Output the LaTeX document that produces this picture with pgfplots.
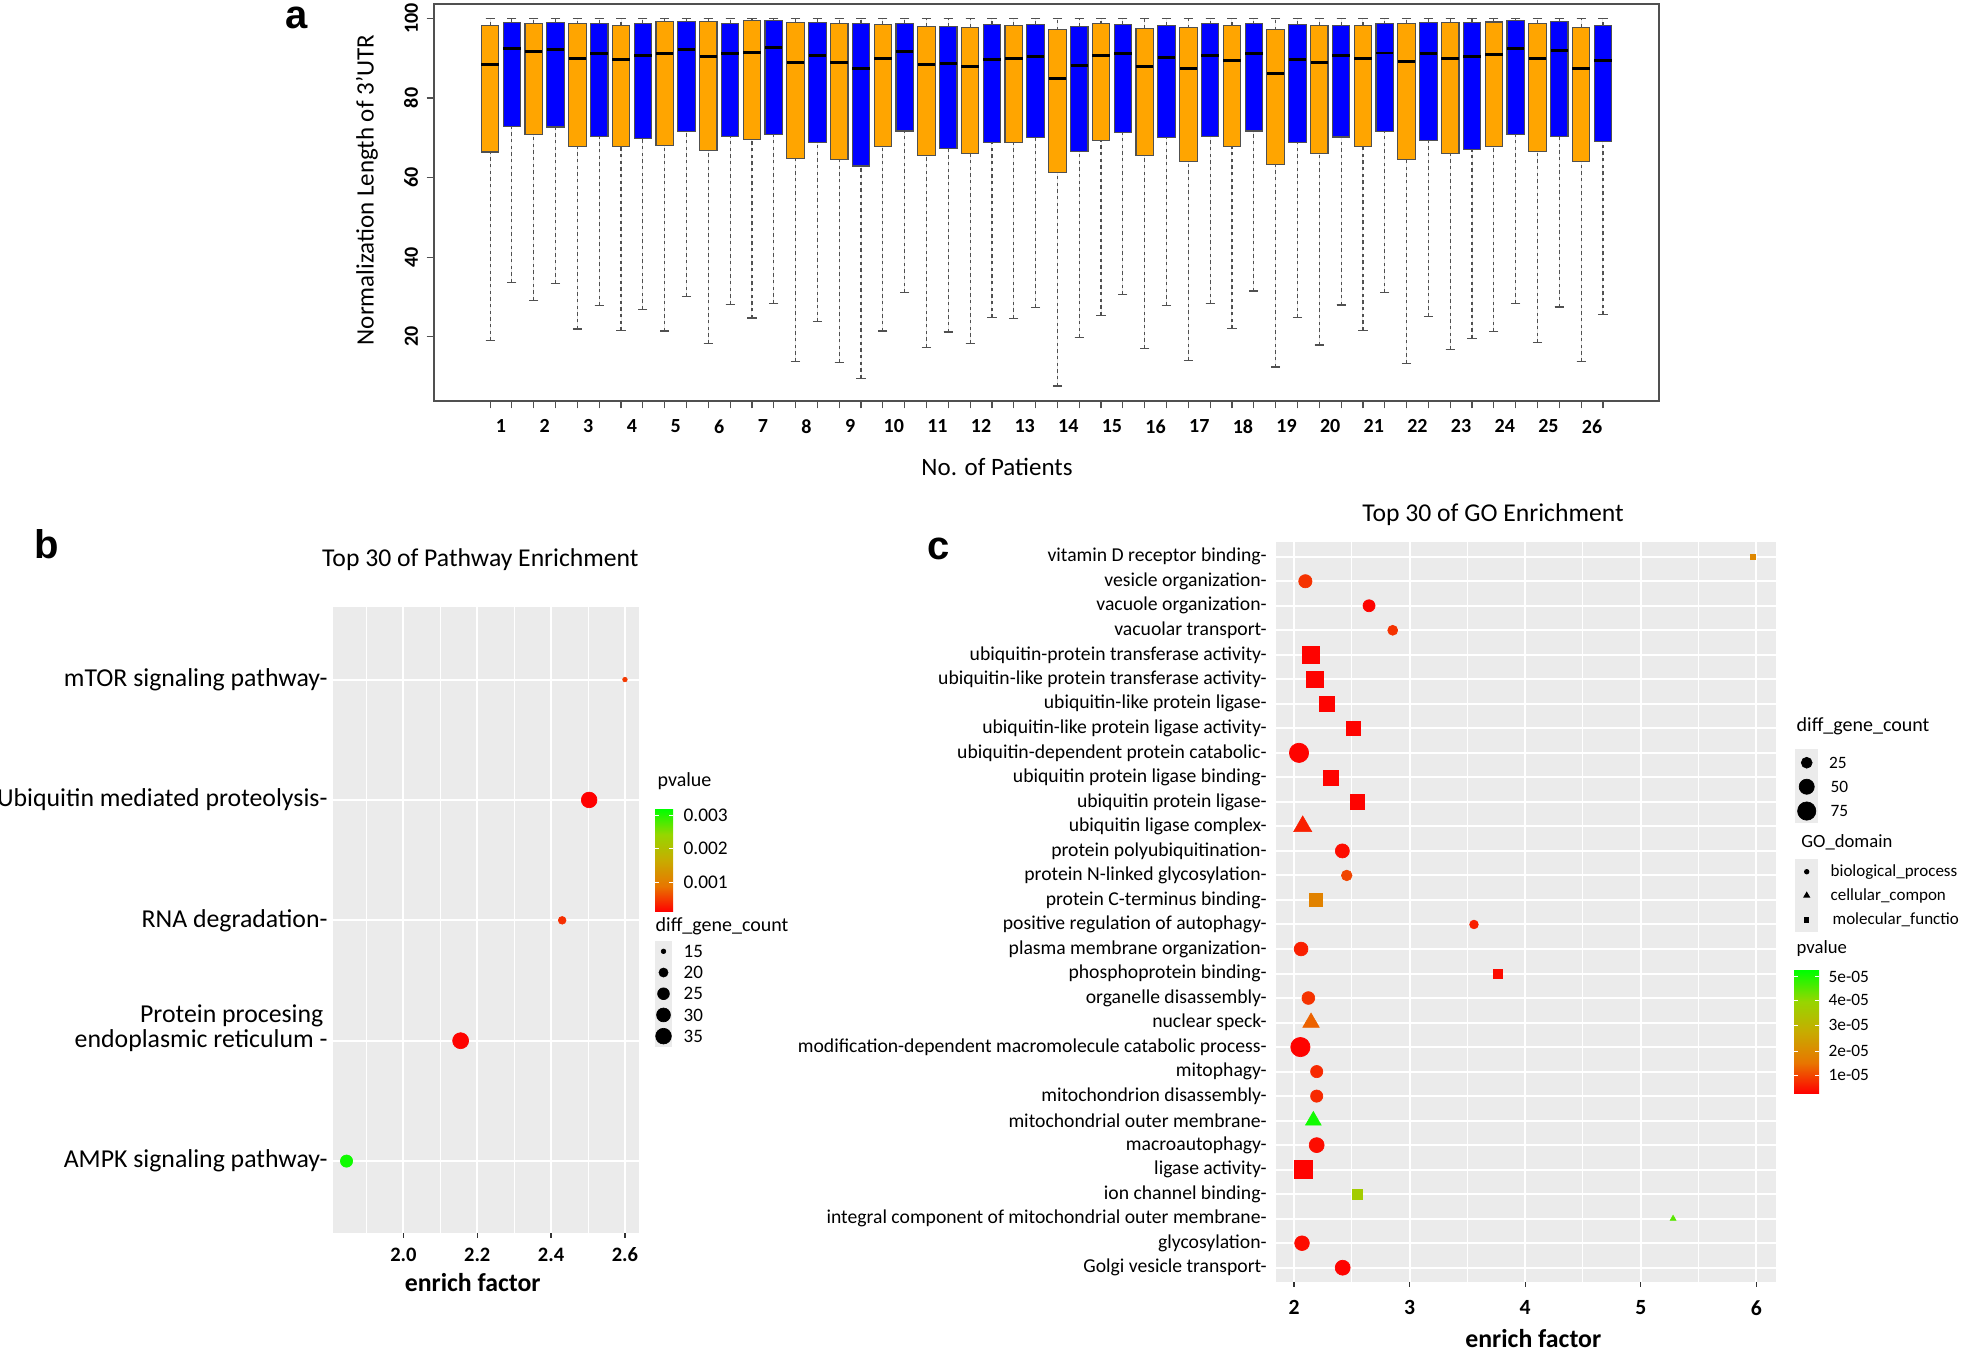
\documentclass[border=0pt]{standalone}
\usepackage{pgfplots}
\pgfplotsset{compat=1.18}
\usepackage{pgfplotstable}
\usepgfplotslibrary{statistics}
\usepackage{fontspec}
\setmainfont{Carlito}
\newfontfamily\arialf{Liberation Sans}

\definecolor{rorange}{HTML}{FFA500}
\definecolor{rblue}{HTML}{0000FF}
\definecolor{ggbg}{HTML}{EBEBEB}
\definecolor{ggtick}{HTML}{333333}
\definecolor{rframe}{HTML}{505050}

\pgfplotsset{colormap={rg}{rgb255(0cm)=(255,0,0); rgb255(1cm)=(232,118,0); rgb255(2cm)=(200,171,0); rgb255(3cm)=(151,214,0); rgb255(4cm)=(0,255,0)}}
\pgfdeclareverticalshading{rgbar}{100bp}{rgb(0bp)=(1,0,0); rgb(25bp)=(1,0,0); rgb(37.5bp)=(0.91,0.463,0); rgb(50bp)=(0.784,0.671,0); rgb(62.5bp)=(0.592,0.839,0); rgb(75bp)=(0,1,0); rgb(100bp)=(0,1,0)}

\newcommand\fs[1]{\fontsize{#1pt}{#1pt}\selectfont}

% panel a: draw position, lower whisker, lower quartile, median, upper quartile (upper whisker = 100)
\newcommand\bxo[5]{\addplot[boxplot prepared={draw position=#1, lower whisker=#2, lower quartile=#3, median=#4, upper quartile=#5, upper whisker=100}, draw=rframe, line width=0.35pt, fill=rorange] coordinates {};}
\newcommand\bxb[5]{\addplot[boxplot prepared={draw position=#1, lower whisker=#2, lower quartile=#3, median=#4, upper quartile=#5, upper whisker=100}, draw=rframe, line width=0.35pt, fill=rblue] coordinates {};}
\newcommand\wtick[3]{\draw[white, line width=0.3pt] (#1,#3) -- (#1+4,#3); \draw[white, line width=0.3pt] (#2-4,#3) -- (#2,#3);}

% panel b
\pgfplotstableread{
pos ef count p
5 2.600 15 0.00047
4 2.503 35 0.00010
3 2.430 18 0.00040
2 2.155 36 0.00012
1 1.846 26 0.00310
}\pathtab

% panel c: biological process
\pgfplotstableread{
pos ef count p
29 2.098 38 0.8e-5
28 2.649 31 0.3e-5
27 2.854 21 0.8e-5
22 2.043 84 0.3e-5
18 2.418 43 0.4e-5
17 2.456 24 1.0e-5
15 3.557 16 0.6e-5
14 2.061 41 0.6e-5
12 2.124 35 0.8e-5
10 2.055 84 0.3e-5
9 2.196 32 0.7e-5
8 2.196 32 0.7e-5
6 2.196 49 0.4e-5
2 2.069 47 0.4e-5
1 2.421 49 0.3e-5
}\gobp
% cellular component
\pgfplotstableread{
pos ef count p
19 2.075 73 0.6e-5
11 2.147 59 1.3e-5
7 2.167 54 5.1e-5
3 5.280 8 4.5e-5
}\gocc
% molecular function
\pgfplotstableread{
pos ef count p
30 5.970 6 1.9e-5
26 2.144 78 0.3e-5
25 2.179 78 0.3e-5
24 2.283 62 0.3e-5
23 2.510 51 0.3e-5
21 2.317 62 0.3e-5
20 2.545 56 0.3e-5
16 2.190 41 1.8e-5
13 3.767 21 0.4e-5
5 2.084 90 0.3e-5
4 2.548 26 3.7e-5
}\gomf

% legend keys (pixel positions on the canvas)
\pgfplotstableread{
x y count
663.5 951.3 15
663.5 972.5 20
663.5 993.7 25
663.5 1014.9 30
663.5 1036.1 35
}\legbtab
\pgfplotstableread{
x y count
1806.7 762.7 25
1806.7 786.7 50
1806.7 811.0 75
}\legctab

\begin{document}
\begin{tikzpicture}
\useasboundingbox (0pt,0pt) rectangle (588.3pt,-404.7pt);

% ================= panel a =================
\begin{axis}[
  at={(130.2pt,-120.3pt)}, anchor=south west, scale only axis,
  width=367.5pt, height=119.1pt,
  xmin=-1.57, xmax=54.57, ymin=3.84, ymax=103.6,
  axis line style={rframe, line width=0.45pt},
  tick align=outside, tick pos=left,
  major tick length=2.2pt,
  every tick/.style={rframe, line width=0.35pt},
  xtick={1,...,52},
  xticklabels={,1,,2,,3,,4,,5,,6,,7,,8,,9,,10,,11,,12,,13,,14,,15,,16,,17,,18,,19,,20,,21,,22,,23,,24,,25,,26},
  xticklabel style={font=\bfseries\fs{6}, anchor=north, inner sep=0pt, yshift=-3.1pt, xshift=-3.27pt},
  ytick={20,40,60,80,100}, yticklabels={20,40,60,80,100},
  yticklabel style={font=\bfseries\fs{6}, xshift=-2.4pt, rotate=90, anchor=south, inner sep=0pt},
  boxplot/draw direction=y,
  boxplot/box extend=0.8, boxplot/whisker extend=0.42,
  boxplot/every median/.style={black, line width=0.85pt},
  boxplot/draw/lower whisker/.code={%
    \draw[rframe, line width=0.35pt, dash pattern=on 1pt off 1pt]
      (boxplot cs:\pgfplotsboxplotvalue{lower whisker}) -- (boxplot cs:\pgfplotsboxplotvalue{lower quartile});
    \draw[rframe, line width=0.4pt, solid]
      (boxplot whisker cs:\pgfplotsboxplotvalue{lower whisker},0) -- (boxplot whisker cs:\pgfplotsboxplotvalue{lower whisker},1);
  },
  boxplot/draw/upper whisker/.code={%
    \draw[rframe, line width=0.35pt, dash pattern=on 1pt off 1pt]
      (boxplot cs:\pgfplotsboxplotvalue{upper quartile}) -- (boxplot cs:\pgfplotsboxplotvalue{upper whisker});
    \draw[rframe, line width=0.4pt, solid]
      (boxplot whisker cs:\pgfplotsboxplotvalue{upper whisker},0) -- (boxplot whisker cs:\pgfplotsboxplotvalue{upper whisker},1);
  },
]
\bxo{1}{19.0}{66.4}{88.4}{98.2}
\bxb{2}{33.7}{72.9}{92.5}{99.0}
\bxo{3}{29.1}{70.9}{91.6}{98.8}
\bxb{4}{33.4}{72.7}{92.1}{98.9}
\bxo{5}{21.9}{67.9}{89.9}{98.6}
\bxb{6}{27.8}{70.3}{91.2}{98.7}
\bxo{7}{21.5}{67.7}{89.6}{98.3}
\bxb{8}{26.9}{69.9}{90.6}{98.7}
\bxo{9}{21.4}{68.1}{91.2}{99.2}
\bxb{10}{30.1}{71.5}{92.1}{99.2}
\bxo{11}{18.3}{66.8}{90.4}{99.2}
\bxb{12}{28.1}{70.4}{91.2}{98.8}
\bxo{13}{24.7}{69.5}{91.5}{99.4}
\bxb{14}{28.4}{70.9}{92.6}{99.4}
\bxo{15}{13.8}{64.7}{89.0}{98.9}
\bxb{16}{23.8}{68.8}{90.7}{98.9}
\bxo{17}{13.6}{64.6}{88.8}{98.7}
\bxb{18}{9.5}{62.9}{87.4}{98.7}
\bxo{19}{21.4}{67.7}{89.9}{98.5}
\bxb{20}{31.1}{71.7}{91.7}{98.7}
\bxo{21}{17.3}{65.6}{88.4}{97.9}
\bxb{22}{21.2}{67.2}{88.7}{98.0}
\bxo{23}{18.3}{66.0}{87.8}{97.8}
\bxb{24}{24.8}{68.9}{89.7}{98.4}
\bxo{25}{24.6}{68.8}{90.0}{98.3}
\bxb{26}{27.3}{70.0}{90.4}{98.4}
\bxo{27}{7.6}{61.2}{84.9}{97.1}
\bxb{28}{19.8}{66.5}{88.1}{97.9}
\bxo{29}{25.4}{69.2}{90.7}{98.6}
\bxb{30}{30.6}{71.3}{91.1}{98.5}
\bxo{31}{17.1}{65.5}{87.8}{97.5}
\bxb{32}{27.9}{70.1}{90.2}{98.3}
\bxo{33}{14.1}{64.1}{87.4}{97.6}
\bxb{34}{28.3}{70.4}{90.6}{98.6}
\bxo{35}{22.0}{67.9}{89.5}{98.3}
\bxb{36}{31.5}{71.7}{91.1}{98.6}
\bxo{37}{12.4}{63.2}{86.1}{97.1}
\bxb{38}{24.8}{68.9}{89.7}{98.4}
\bxo{39}{17.9}{66.1}{88.9}{98.2}
\bxb{40}{28.0}{70.2}{90.6}{98.3}
\bxo{41}{21.6}{67.7}{89.9}{98.2}
\bxb{42}{31.1}{71.6}{91.3}{98.6}
\bxo{43}{13.3}{64.6}{89.2}{98.7}
\bxb{44}{25.1}{69.4}{91.2}{98.9}
\bxo{45}{16.8}{66.0}{89.9}{98.9}
\bxb{46}{19.6}{67.1}{90.5}{98.9}
\bxo{47}{21.3}{67.9}{90.9}{99.1}
\bxb{48}{28.4}{70.9}{92.5}{99.4}
\bxo{49}{18.5}{66.6}{89.9}{98.7}
\bxb{50}{27.5}{70.4}{92.0}{99.2}
\bxo{51}{13.8}{64.1}{87.3}{97.8}
\bxb{52}{25.5}{69.0}{89.4}{98.2}
\end{axis}

% ================= panel b =================
\begin{axis}[
  at={(99.75pt,-369.99pt)}, anchor=south west, scale only axis,
  width=91.95pt, height=187.8pt,
  xmin=1.808, xmax=2.638, ymin=0.4, ymax=5.6,
  axis background/.style={fill=ggbg},
  axis line style={draw=none},
  tick align=outside, xtick pos=left, ytick pos=left,
  major tick length=1.3pt, minor tick length=0pt,
  xtick style={ggtick, line width=0.4pt}, ytick style={draw=none},
  xtick={2.0,2.2,2.4,2.6}, xticklabels={2.0,2.2,2.4,2.6},
  minor xtick={1.9,2.1,2.3,2.5},
  ytick={1,2,3,4,5},
  yticklabels={AMPK signaling pathway-, endoplasmic reticulum -, RNA degradation-, Ubiquitin mediated proteolysis-, mTOR signaling pathway-},
  xticklabel style={font=\bfseries\fs{6.15}, anchor=north, inner sep=0pt, yshift=-2.85pt},
  yticklabel style={font=\fs{7.74}, anchor=east, inner sep=0pt},
  grid=both, major grid style={white, line width=0.6pt}, minor grid style={white, line width=0.3pt},
  point meta min=0.0001, point meta max=0.00318,
]
\addplot[scatter, only marks, mark=*, point meta=explicit,
  scatter/use mapped color={draw=mapped color, fill=mapped color},
  mark options={line width=0.2pt},
  visualization depends on={0.15*(1.5+14.5*sqrt((\thisrow{count}-14)/22)) \as \msz},
  scatter/@pre marker code/.append style={/tikz/mark size=\msz}]
  table[x=ef, y=pos, meta=p] \pathtab;
\end{axis}

% ================= panel c =================
\begin{axis}[
  at={(382.8pt,-384.72pt)}, anchor=south west, scale only axis,
  width=149.91pt, height=222.12pt,
  xmin=1.844, xmax=6.168, ymin=0.4, ymax=30.6,
  axis background/.style={fill=ggbg},
  axis line style={draw=none},
  tick align=outside, xtick pos=left, ytick pos=left,
  major tick length=1.3pt, minor tick length=0pt,
  xtick style={ggtick, line width=0.4pt}, ytick style={draw=none},
  xtick={2,3,4,5,6}, xticklabels={2,3,4,5,6},
  minor xtick={2.5,3.5,4.5,5.5},
  ytick={1,...,30},
  yticklabels={Golgi vesicle transport-, glycosylation-, integral component of mitochondrial outer membrane-, ion channel binding-, ligase activity-, macroautophagy-, mitochondrial outer membrane-, mitochondrion disassembly-, mitophagy-, modification-dependent macromolecule catabolic process-, nuclear speck-, organelle disassembly-, phosphoprotein binding-, plasma membrane organization-, positive regulation of autophagy-, protein C-terminus binding-, protein N-linked glycosylation-, protein polyubiquitination-, ubiquitin ligase complex-, ubiquitin protein ligase-, ubiquitin protein ligase binding-, ubiquitin-dependent protein catabolic-, ubiquitin-like protein ligase activity-, ubiquitin-like protein ligase-, ubiquitin-like protein transferase activity-, ubiquitin-protein transferase activity-, vacuolar transport-, vacuole organization-, vesicle organization-, vitamin D receptor binding-},
  xticklabel style={font=\bfseries\fs{6.5}, anchor=north, inner sep=0pt, yshift=-4pt},
  yticklabel style={font=\fs{5.9}, anchor=east, inner sep=0pt, xshift=-1.3pt},
  grid=both, major grid style={white, line width=0.6pt}, minor grid style={white, line width=0.3pt},
  point meta min=0.27e-5, point meta max=5.23e-5,
]
\addplot[scatter, only marks, mark=*, point meta=explicit,
  scatter/use mapped color={draw=mapped color, fill=mapped color},
  mark options={line width=0.2pt},
  visualization depends on={0.15*(2+17.5*sqrt((\thisrow{count}-4)/82)) \as \msz},
  scatter/@pre marker code/.append style={/tikz/mark size=\msz}]
  table[x=ef, y=pos, meta=p] \gobp;
\addplot[scatter, only marks, mark=triangle*, point meta=explicit,
  scatter/use mapped color={draw=mapped color, fill=mapped color},
  mark options={line width=0.2pt},
  visualization depends on={0.1732*(2+17.5*sqrt((\thisrow{count}-4)/82)) \as \msz},
  scatter/@pre marker code/.append style={/tikz/mark size=\msz}]
  table[x=ef, y=pos, meta=p] \gocc;
\addplot[scatter, only marks, mark=square*, point meta=explicit,
  scatter/use mapped color={draw=mapped color, fill=mapped color},
  mark options={line width=0.2pt},
  visualization depends on={0.135*(2+17.5*sqrt((\thisrow{count}-4)/82)) \as \msz},
  scatter/@pre marker code/.append style={/tikz/mark size=\msz}]
  table[x=ef, y=pos, meta=p] \gomf;
\end{axis}

% ================= overlay (pixel canvas) =================
\begin{axis}[
  at={(0pt,0pt)}, anchor=north west, scale only axis,
  width=588.3pt, height=404.7pt,
  xmin=0, xmax=1961, ymin=0, ymax=1349, y dir=reverse,
  hide axis, clip=false,
]
% panel a texts
\node[font=\arialf\bfseries\fs{12}, inner sep=0pt] at (297,18) {a};
\node[rotate=90, font=\fs{7.5}] at (367,190) {Normalization Length of 3’UTR};
\node[font=\fs{7.5}] at (997,466.7) {No. of Patients};

% panel b texts
\node[font=\arialf\bfseries\fs{12}, inner sep=0pt] at (46.5,544) {b};
\node[font=\fs{7.7}] at (480.4,559.5) {Top 30 of Pathway Enrichment};
\node[font=\fs{7.74}, anchor=east, inner sep=0pt] at (324,1016) {Protein procesing};
\node[font=\bfseries\fs{7.74}] at (472.7,1282.7) {enrich factor};
% panel b legend
\node[font=\fs{6}, anchor=west, inner sep=0pt] at (657,781) {pvalue};
\shade[shading=rgbar] (655,911.7) rectangle (673,809);
\wtick{655}{673}{815}
\wtick{655}{673}{848.7}
\wtick{655}{673}{882}
\node[font=\fs{5.8}, anchor=west, inner sep=0pt] at (683,815) {0.003};
\node[font=\fs{5.8}, anchor=west, inner sep=0pt] at (683,848.7) {0.002};
\node[font=\fs{5.8}, anchor=west, inner sep=0pt] at (683,882) {0.001};
\node[font=\fs{6}, anchor=west, inner sep=0pt] at (655,926.5) {diff\_gene\_count};
\fill[ggbg] (654.8,940.7) rectangle (672.3,1046.7);
\node[font=\fs{5.7}, anchor=west, inner sep=0pt] at (683,951.3) {15};
\node[font=\fs{5.7}, anchor=west, inner sep=0pt] at (683,972.5) {20};
\node[font=\fs{5.7}, anchor=west, inner sep=0pt] at (683,993.7) {25};
\node[font=\fs{5.7}, anchor=west, inner sep=0pt] at (683,1014.9) {30};
\node[font=\fs{5.7}, anchor=west, inner sep=0pt] at (683,1036.1) {35};
\addplot[scatter, only marks, mark=*,
  scatter/use mapped color={draw=black, fill=black},
  mark options={line width=0.2pt},
  visualization depends on={0.15*(1.5+14.5*sqrt((\thisrow{count}-14)/22)) \as \msz},
  scatter/@pre marker code/.append style={/tikz/mark size=\msz}]
  table[x=x, y=y] \legbtab;

% panel c texts
\node[font=\arialf\bfseries\fs{12}, inner sep=0pt] at (939,548.7) {c};
\node[font=\fs{7.7}] at (1493,515) {Top 30 of GO Enrichment};
\node[font=\bfseries\fs{7.74}] at (1533.3,1338.3) {enrich factor};
% panel c legend
\node[font=\fs{6}, anchor=west, inner sep=0pt] at (1796,726.7) {diff\_gene\_count};
\fill[ggbg] (1795,749) rectangle (1818.3,823);
\node[font=\fs{5.2}, anchor=west, inner sep=0pt] at (1828.5,762.7) {25};
\node[font=\fs{5.2}, anchor=west, inner sep=0pt] at (1830,786.7) {50};
\node[font=\fs{5.2}, anchor=west, inner sep=0pt] at (1830,811) {75};
\addplot[scatter, only marks, mark=*,
  scatter/use mapped color={draw=black, fill=black},
  mark options={line width=0.2pt},
  visualization depends on={0.15*(2+17.5*sqrt((\thisrow{count}-4)/82)) \as \msz},
  scatter/@pre marker code/.append style={/tikz/mark size=\msz}]
  table[x=x, y=y] \legctab;
\node[font=\fs{5.6}, anchor=west, inner sep=0pt] at (1800.7,842.7) {GO\_domain};
\fill[ggbg] (1795,859.3) rectangle (1818.3,931.7);
\addplot[only marks, mark=*, black, mark size=0.6pt] coordinates {(1806.7,871.7)};
\addplot[only marks, mark=triangle*, black, mark size=0.85pt] coordinates {(1806.7,895.5)};
\addplot[only marks, mark=square*, black, mark size=0.6pt] coordinates {(1806.7,919.8)};
\node[font=\fs{5.1}, anchor=west, inner sep=0pt] at (1830,871.7) {biological\_process};
\node[font=\fs{5.1}, anchor=west, inner sep=0pt] at (1830,895.5) {cellular\_compon};
\node[font=\fs{5.1}, anchor=west, inner sep=0pt] at (1832,919.8) {molecular\_functio};
\node[font=\fs{5.6}, anchor=west, inner sep=0pt] at (1796,948.3) {pvalue};
\shade[shading=rgbar] (1794,1093.3) rectangle (1819,970.7);
\wtick{1794}{1819}{976.7}
\wtick{1794}{1819}{1000}
\wtick{1794}{1819}{1025.3}
\wtick{1794}{1819}{1051}
\wtick{1794}{1819}{1075.3}
\node[font=\fs{5.2}, anchor=west, inner sep=0pt] at (1828,976.7) {5e-05};
\node[font=\fs{5.2}, anchor=west, inner sep=0pt] at (1828,1000) {4e-05};
\node[font=\fs{5.2}, anchor=west, inner sep=0pt] at (1828,1025.3) {3e-05};
\node[font=\fs{5.2}, anchor=west, inner sep=0pt] at (1828,1051) {2e-05};
\node[font=\fs{5.2}, anchor=west, inner sep=0pt] at (1828,1075.3) {1e-05};
\end{axis}
\end{tikzpicture}
\end{document}
